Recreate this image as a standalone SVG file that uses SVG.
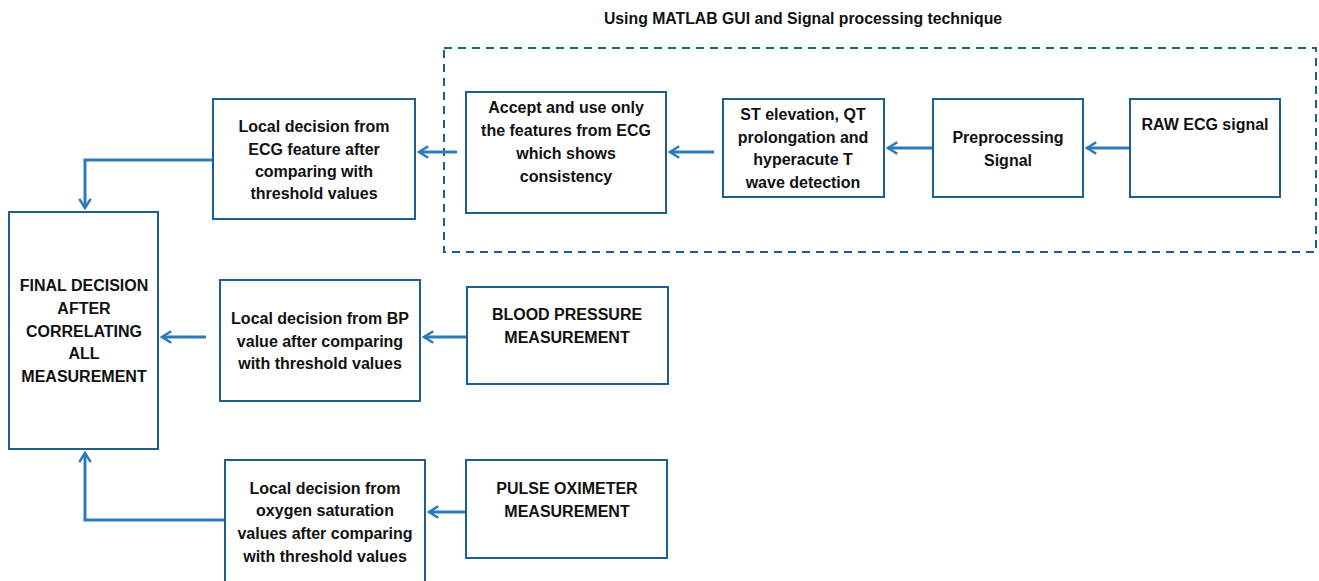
<svg xmlns="http://www.w3.org/2000/svg" width="1319" height="581" viewBox="0 0 1319 581">
  <style>
    .box { fill: #ffffff; stroke: #1f5f8f; stroke-width: 2; }
    .frame { fill: none; stroke: #1f5f8f; stroke-width: 2; stroke-dasharray: 8 6; }
    .lbl { font-family: "Liberation Sans", Arial, sans-serif; font-weight: bold; font-size: 16px; fill: #111111; text-anchor: middle; }
    .title { font-family: "Liberation Sans", Arial, sans-serif; font-weight: bold; font-size: 15.8px; fill: #111111; text-anchor: middle; }
    .link { fill: none; stroke: #2b7bbb; stroke-width: 3; marker-end: url(#open); }
  </style>
  <defs>
    <marker id="open" viewBox="0 0 12 12" refX="10" refY="6" markerWidth="4.6" markerHeight="4.6" orient="auto" markerUnits="strokeWidth">
      <polyline points="2,1 10,6 2,11" fill="none" stroke="#2b7bbb" stroke-width="2.2"/>
    </marker>
  </defs>
  <rect width="1319" height="581" fill="#ffffff"/>

  <text class="title" x="803" y="24">Using MATLAB GUI and Signal processing technique</text>
  <rect class="frame" x="444" y="48" width="872" height="204"/>

  <g id="connectors">
    <line class="link" x1="1130" y1="148" x2="1087" y2="148"/>
    <line class="link" x1="933" y1="148" x2="888" y2="148"/>
    <line class="link" x1="714" y1="152" x2="670" y2="152"/>
    <line class="link" x1="457" y1="152" x2="419" y2="152"/>
    <polyline class="link" points="213,160 85,160 85,208"/>
    <line class="link" x1="206" y1="337" x2="162" y2="337"/>
    <line class="link" x1="467" y1="337" x2="424" y2="337"/>
    <line class="link" x1="466" y1="512" x2="429" y2="512"/>
    <polyline class="link" points="225,520 85,520 85,453"/>
  </g>

  <g id="raw-ecg">
    <rect class="box" x="1130" y="99" width="150" height="98"/>
    <text class="lbl" x="1205" y="130">RAW ECG signal</text>
  </g>
  <g id="preprocessing">
    <rect class="box" x="933" y="99" width="150" height="98"/>
    <text class="lbl" x="1008" y="143">Preprocessing</text>
    <text class="lbl" x="1008" y="166">Signal</text>
  </g>
  <g id="st-detection">
    <rect class="box" x="723" y="99" width="161" height="98"/>
    <text class="lbl" x="803" y="120">ST elevation, QT</text>
    <text class="lbl" x="803" y="143">prolongation and</text>
    <text class="lbl" x="803" y="165">hyperacute T</text>
    <text class="lbl" x="803" y="188">wave detection</text>
  </g>
  <g id="consistent-features">
    <rect class="box" x="466" y="92" width="200" height="121"/>
    <text class="lbl" x="566" y="113">Accept and use only</text>
    <text class="lbl" x="566" y="136">the features from ECG</text>
    <text class="lbl" x="566" y="159">which shows</text>
    <text class="lbl" x="566" y="182">consistency</text>
  </g>
  <g id="ecg-decision">
    <rect class="box" x="213" y="99" width="202" height="120"/>
    <text class="lbl" x="314" y="132">Local decision from</text>
    <text class="lbl" x="314" y="155">ECG feature after</text>
    <text class="lbl" x="314" y="177">comparing with</text>
    <text class="lbl" x="314" y="199">threshold values</text>
  </g>
  <g id="final-decision">
    <rect class="box" x="9" y="212" width="149" height="237"/>
    <text class="lbl" x="84" y="291">FINAL DECISION</text>
    <text class="lbl" x="84" y="314">AFTER</text>
    <text class="lbl" x="84" y="337">CORRELATING</text>
    <text class="lbl" x="84" y="359">ALL</text>
    <text class="lbl" x="84" y="382">MEASUREMENT</text>
  </g>
  <g id="bp-decision">
    <rect class="box" x="220" y="280" width="200" height="121"/>
    <text class="lbl" x="320" y="324">Local decision from BP</text>
    <text class="lbl" x="320" y="347">value after comparing</text>
    <text class="lbl" x="320" y="369">with threshold values</text>
  </g>
  <g id="bp-measurement">
    <rect class="box" x="467" y="287" width="201" height="97"/>
    <text class="lbl" x="567" y="320">BLOOD PRESSURE</text>
    <text class="lbl" x="567" y="343">MEASUREMENT</text>
  </g>
  <g id="spo2-decision">
    <rect class="box" x="225" y="460" width="200" height="130"/>
    <text class="lbl" x="325" y="494">Local decision from</text>
    <text class="lbl" x="325" y="516">oxygen saturation</text>
    <text class="lbl" x="325" y="539">values after comparing</text>
    <text class="lbl" x="325" y="562">with threshold values</text>
  </g>
  <g id="pulse-oximeter">
    <rect class="box" x="466" y="460" width="201" height="98"/>
    <text class="lbl" x="567" y="494">PULSE OXIMETER</text>
    <text class="lbl" x="567" y="517">MEASUREMENT</text>
  </g>
</svg>
